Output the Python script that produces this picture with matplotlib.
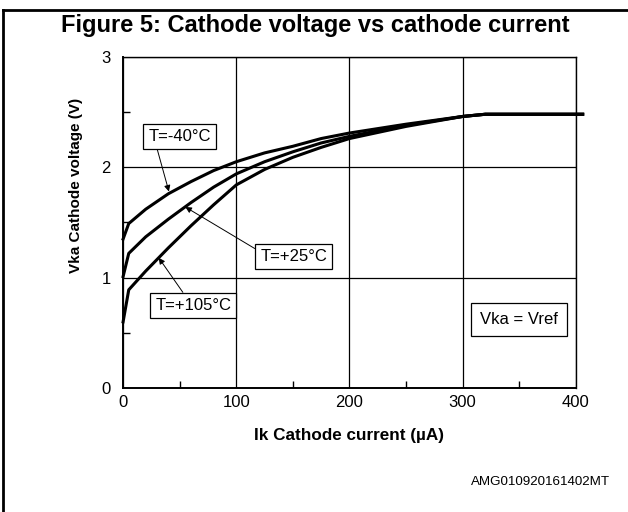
import matplotlib
matplotlib.use("Agg")
import matplotlib.pyplot as plt
from matplotlib.lines import Line2D

plt.rcParams['font.family'] = ['Liberation Sans', 'DejaVu Sans']

# cathode current (uA) and cathode voltage (V) for each temperature
ik = [0, 5, 20, 40, 60, 80, 100, 125, 150, 175, 200, 250, 300, 320, 406]
vka_m40 = [1.35, 1.49, 1.62, 1.76, 1.87, 1.97, 2.05, 2.13, 2.19, 2.26, 2.31, 2.39, 2.46, 2.48, 2.48]
vka_p25 = [1.01, 1.22, 1.37, 1.53, 1.68, 1.82, 1.94, 2.05, 2.14, 2.22, 2.28, 2.38, 2.46, 2.48, 2.48]
vka_p105 = [0.60, 0.89, 1.06, 1.27, 1.47, 1.66, 1.84, 1.98, 2.09, 2.18, 2.26, 2.37, 2.46, 2.48, 2.48]

labels = ['T=-40°C', 'T=+25°C', 'T=+105°C']
label_pos = [(49.8, 2.28), (150.6, 1.19), (62.2, 0.75)]
arrow_pos = [(40.5, 1.78), (55, 1.64), (31.5, 1.18)]
arrow_rel = [(0.12, 0.0), (0.0, 0.83), (0.41, 1.0)]

fig = plt.figure(figsize=(6.28, 5.12), dpi=100)
ax = fig.add_axes([0.196, 0.242, 0.721, 0.647])

for v in (vka_m40, vka_p25, vka_p105):
    ax.plot(ik, v, color='black', lw=2.2, clip_on=False, solid_joinstyle='round')

ax.set_xlim(0, 400)
ax.set_ylim(0, 3)
ax.set_xticks([0, 100, 200, 300, 400])
ax.set_yticks([0, 1, 2, 3])
ax.set_xticks([50, 150, 250, 350], minor=True)
ax.set_yticks([0.5, 1.5, 2.5], minor=True)
ax.tick_params(which='major', length=0, labelsize=12)
ax.tick_params(axis='x', which='major', pad=5)
ax.tick_params(axis='y', which='major', pad=9)
ax.tick_params(which='minor', direction='in', length=5, width=1)
ax.grid(True, which='major', color='black', lw=0.9)
for s in ax.spines.values():
    s.set_linewidth(1.0)
ax.spines['left'].set_linewidth(1.4)
ax.spines['bottom'].set_linewidth(1.4)

ax.set_xlabel('Ik Cathode current (µA)', fontsize=12.3, fontweight='bold')
ax.xaxis.set_label_coords(0.5, -0.12)
ax.set_ylabel('Vka Cathode voltage (V)', fontsize=11, fontweight='bold')
ax.yaxis.set_label_coords(-0.088, 0.613)

for txt, (tx, ty), (hx, hy), rel in zip(labels, label_pos, arrow_pos, arrow_rel):
    ax.annotate(txt, xy=(hx, hy), xytext=(tx, ty), fontsize=12,
                ha='center', va='center',
                bbox=dict(boxstyle='square,pad=0.3', fc='white', ec='black', lw=0.9),
                arrowprops=dict(arrowstyle='-|>', color='black', lw=0.7,
                                mutation_scale=9, relpos=rel, shrinkA=0, shrinkB=0))

ax.text(349.6, 0.623, 'Vka = Vref', fontsize=12, ha='center', va='center',
        bbox=dict(boxstyle='square,pad=0.55', fc='white', ec='black', lw=0.9))

fig.text(0.502, 0.951, 'Figure 5: Cathode voltage vs cathode current',
         fontsize=17, fontweight='bold', ha='center', va='center')
fig.text(0.86, 0.059, 'AMG010920161402MT', fontsize=9.6, ha='center', va='center')

# outer frame (left and top edges)
fig.add_artist(Line2D([0.0045, 0.0045], [0.0, 0.981], color='black', lw=2, transform=fig.transFigure))
fig.add_artist(Line2D([0.0045, 1.0], [0.981, 0.981], color='black', lw=2, transform=fig.transFigure))

fig.savefig('out.png', dpi=100)
